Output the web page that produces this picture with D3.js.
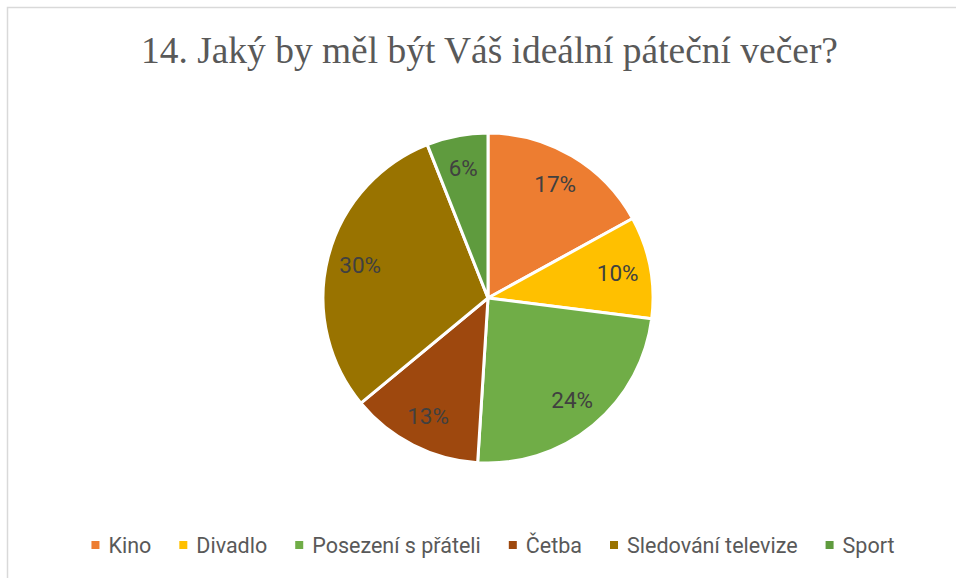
<!DOCTYPE html>
<html>
<head>
<meta charset="utf-8">
<script src="https://cdn.jsdelivr.net/npm/d3@7"></script>
<style>
  body { margin: 0; background: #fff; }
</style>
</head>
<body>
<script>
// data
var title = "14. Jaký by měl být Váš ideální páteční večer?";
var categories = ["Kino", "Divadlo", "Posezení s přáteli", "Četba", "Sledování televize", "Sport"];
var values = [17, 10, 24, 13, 30, 6];
var colors = ["#ED7D31", "#FFC000", "#70AD47", "#9E480E", "#997300", "#5F9B3E"];

var width = 956, height = 578;
var cx = 488, cy = 298, radius = 165;

var svg = d3.select("body")
  .append("svg")
    .attr("width", width)
    .attr("height", height);

svg.append("rect")
  .attr("width", width)
  .attr("height", height)
  .attr("fill", "#fff");

// chart area border (right and bottom fall outside the picture)
svg.append("rect")
  .attr("x", 7.5)
  .attr("y", 7.5)
  .attr("width", 1000)
  .attr("height", 1000)
  .attr("fill", "none")
  .attr("stroke", "#D9D9D9")
  .attr("stroke-width", 1.5);

svg.append("text")
  .attr("x", 489.5)
  .attr("y", 62.5)
  .attr("text-anchor", "middle")
  .attr("textLength", 697)
  .attr("lengthAdjust", "spacingAndGlyphs")
  .style("font-family", "'Liberation Serif', 'Times New Roman', serif")
  .style("font-size", "37px")
  .style("fill", "#595959")
  .text(title);

var color = d3.scaleOrdinal()
  .domain(categories)
  .range(colors);

var data = categories.map(function(c, i) { return {name: c, value: values[i]}; });

var pie = d3.pie()
  .sort(null)
  .value(function(d) { return d.value; });

var arc = d3.arc()
  .innerRadius(0)
  .outerRadius(radius);

var labelArc = d3.arc()
  .innerRadius(radius * 0.8)
  .outerRadius(radius * 0.8);

var total = d3.sum(values);

var g = svg.append("g")
  .attr("transform", "translate(" + cx + "," + cy + ")");

g.selectAll("path")
  .data(pie(data))
  .enter()
  .append("path")
    .attr("d", arc)
    .attr("fill", function(d) { return color(d.data.name); })
    .attr("stroke", "#fff")
    .attr("stroke-width", 3)
    .attr("stroke-linejoin", "round");

g.selectAll("text.label")
  .data(pie(data))
  .enter()
  .append("text")
    .attr("class", "label")
    .attr("transform", function(d) { return "translate(" + labelArc.centroid(d) + ")"; })
    .attr("dy", "0.36em")
    .attr("text-anchor", "middle")
    .style("font-family", "Roboto, 'Open Sans', sans-serif")
    .style("font-size", "22.5px")
    .style("fill", "#404040")
    .text(function(d) { return Math.round(d.data.value / total * 100) + "%"; });

// legend
var legend = svg.append("g");
var items = legend.selectAll("g")
  .data(categories)
  .enter()
  .append("g");

items.append("rect")
  .attr("width", 8)
  .attr("height", 8)
  .attr("y", -4)
  .attr("fill", function(d) { return color(d); });

items.append("text")
  .attr("x", 17)
  .attr("dy", "0.36em")
  .style("font-family", "Roboto, 'Open Sans', sans-serif")
  .style("font-size", "21.5px")
  .style("fill", "#595959")
  .text(function(d) { return d; });

var xpos = 0, gap = 28;
items.each(function() {
  var t = d3.select(this).select("text").node().getComputedTextLength();
  d3.select(this).attr("transform", "translate(" + xpos + ",0)");
  xpos += 17 + t + gap;
});
var legendWidth = xpos - gap;
legend.attr("transform", "translate(" + (493 - legendWidth / 2) + ",545)");
</script>
</body>
</html>
